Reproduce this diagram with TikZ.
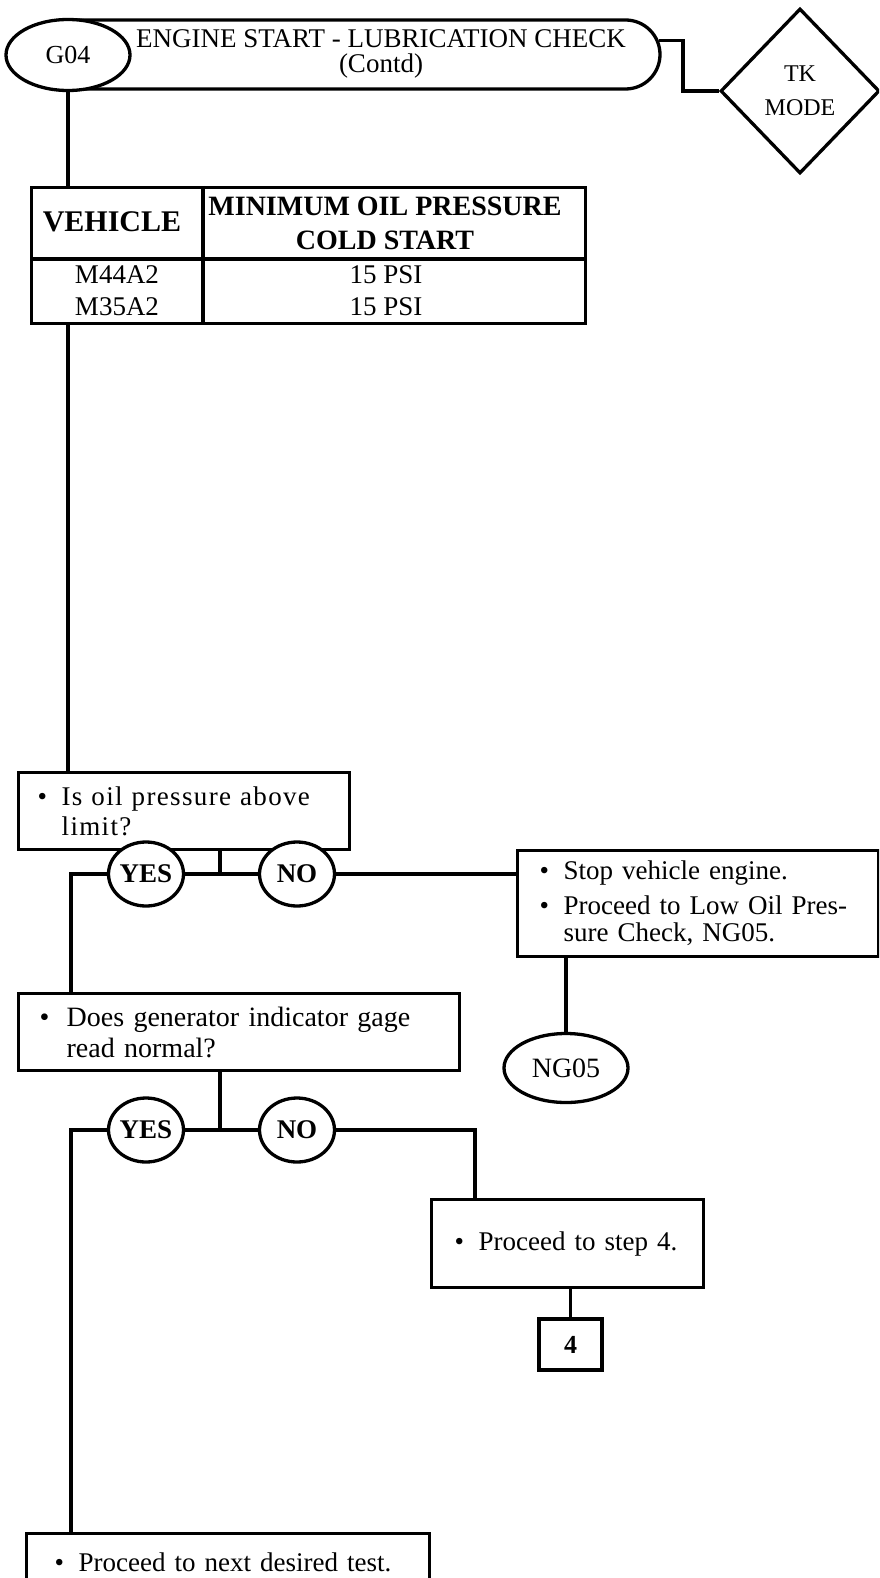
\documentclass[tikz,border=0pt]{standalone}
\usepackage{fontspec}
\setmainfont{Liberation Serif}
\newfontfamily\spaced[LetterSpace=5]{Liberation Serif}
\usetikzlibrary{shapes.geometric,calc}
\newcommand\bul{\makebox[24pt][l]{•}}
\newcommand\ind{\hspace*{24pt}}
\begin{document}
\begin{tikzpicture}[x=1pt,y=-1pt,line width=3.3pt,
  oval/.style={draw,ellipse,fill=white,inner sep=0pt},
  boxnode/.style={draw,rectangle,fill=white,anchor=north west,align=left,inner ysep=0pt},
  btxt/.style={font=\fontsize{27}{27}\selectfont},
  cell/.style={inner sep=0pt,font=\fontsize{27}{30}\selectfont},
  hcell/.style={inner sep=0pt,font=\bfseries\fontsize{28}{30}\selectfont},
  yn/.style={oval,minimum width=75pt,minimum height=64pt,font=\bfseries\fontsize{27}{27}\selectfont}]
\useasboundingbox (0,0) rectangle (879,1578);
\clip (0,0) rectangle (879,1578);
% header
\node[draw,rectangle,rounded corners=34.5pt,minimum width=620pt,minimum height=69pt,inner sep=0pt] (title) at (350,54.5) {};
\node[inner sep=0pt,align=center,font=\fontsize{27}{25}\selectfont] (titletext) at (381,54) {ENGINE START - LUBRICATION CHECK\\(Contd)};
\node[oval,minimum width=124pt,minimum height=71pt,font=\fontsize{26}{28}\selectfont] (g04) at (68,55) {G04};
\node[draw,diamond,aspect=0.96,minimum width=159pt,minimum height=165pt,inner sep=0pt,align=center,font=\fontsize{24}{34}\selectfont] (tk) at (800,91) {TK\\MODE};
\coordinate (tstart) at ($(title.east)+(-3,-14)$);
\coordinate (tbend) at ($(tk.west)+(-36,0)$);
\draw (tstart) -| (tbend) -- (tk.west);
% table
\node[draw,rectangle,minimum width=554pt,minimum height=136pt,anchor=north west,inner sep=0pt] (tab) at (30,186) {};
\draw ($(tab.north west)+(173,0)$) -- ($(tab.south west)+(173,0)$);
\draw ($(tab.north west)+(0,73)$) -- ($(tab.north east)+(0,73)$);
\node[hcell,font=\bfseries\fontsize{30}{30}\selectfont] (hveh) at (112,222) {VEHICLE};
\node[hcell] (hmin) at (385,206) {MINIMUM OIL PRESSURE};
\node[hcell] (hcold) at (385,240) {COLD START};
\node[cell] (r1a) at (117,275) {M44A2};
\node[cell] (r1b) at (386,275) {15 PSI};
\node[cell] (r2a) at (117,307) {M35A2};
\node[cell] (r2b) at (386,307) {15 PSI};
% boxes
\node[boxnode,minimum height=77pt,inner xsep=19pt,text width=293pt,font=\spaced\fontsize{27}{30}\selectfont] (b1) at (17,771) {\bul\mbox{Is oil pressure above}\\\ind limit?};
\node[boxnode,btxt,minimum height=106pt,inner xsep=22pt,text width=317pt] (b2) at (516,849) {\bul\mbox{Stop vehicle engine.}\\[8pt]\bul\mbox{Proceed to Low Oil Pres-}\\\ind\mbox{sure Check, NG05.}};
\node[oval,minimum width=124pt,minimum height=69pt,font=\fontsize{28}{28}\selectfont] (ng) at (566,1068) {NG05};
\node[boxnode,minimum height=77pt,inner xsep=21pt,text width=399pt,font=\fontsize{28}{31}\selectfont] (b3) at (17,992) {\makebox[27pt][l]{•}\mbox{Does generator indicator gage}\\\hspace*{27pt}\mbox{read normal?}};
\node[boxnode,btxt,minimum height=88pt,inner xsep=23pt,text width=226pt] (b4) at (430,1198) {\bul\mbox{Proceed to step 4.}};
\node[draw,rectangle,minimum width=63pt,minimum height=51pt,inner sep=0pt,font=\bfseries\fontsize{26}{28}\selectfont] (four) at (570.5,1344.5) {4};
\node[boxnode,minimum height=58pt,inner xsep=28pt,text width=347pt,font=\fontsize{27}{30}\selectfont] (b5) at (25,1532) {\bul\mbox{Proceed to next desired test.}};
% decisions
\coordinate (j1) at (220,874);
\coordinate (j2) at (220,1130);
\node[yn] (yes1) at (146,874) {YES};
\node[yn] (no1) at (297,874) {NO};
\node[yn] (yes2) at (146,1130) {YES};
\node[yn] (no2) at (297,1130) {NO};
% connectors
\draw (g04.south) -- (g04.south |- tab.north);
\draw (g04.south |- tab.south) -- (g04.south |- b1.north);
\draw (b1.south -| j1) -- (j1);
\draw (yes1.east) -- (no1.west);
\draw (no1.east) -- (no1.east -| b2.west);
\draw (b2.south -| ng.north) -- (ng.north);
\draw (yes1.west) -| ($(b3.north west)+(54,0)$);
\draw (b3.south -| j2) -- (j2);
\draw (yes2.east) -- (no2.west);
\draw (no2.east) -| ($(b4.north west)+(45,0)$);
\draw (b4.south -| four.north) -- (four.north);
\draw (yes2.west) -| ($(b5.north west)+(46,0)$);
\end{tikzpicture}
\end{document}
